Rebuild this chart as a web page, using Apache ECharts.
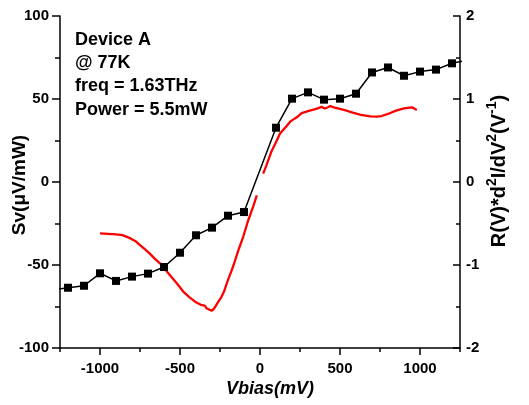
<!DOCTYPE html>
<html>
<head>
<meta charset="utf-8">
<script src="https://cdn.jsdelivr.net/npm/echarts@6/dist/echarts.min.js"></script>
<style>
  html, body { margin: 0; padding: 0; background: #fff; }
  #chart { width: 529px; height: 405px; }
</style>
</head>
<body>
<div id="chart"></div>
<script>
// Photoresponse Sv (left axis) measured every 100 mV of bias
const biasSteps = [-1300, -1200, -1100, -1000, -900, -800, -700, -600, -500, -400, -300, -200, -100,
                   100, 200, 300, 400, 500, 600, 700, 800, 900, 1000, 1100, 1200, 1300];
const svValues = [-65, -63.7, -62.5, -55, -59.6, -57, -55.2, -51.2, -42.6, -32.1, -27.5, -20.3, -18.1,
                  32.7, 50.2, 54, 49.6, 50.2, 53.2, 66, 69, 64, 66.5, 67.7, 71.5, 73.5];

// Normalised curvature R(V)*d2I/dV2 (right axis); '-' leaves the break around zero bias
const curveBias = [-1000, -950, -900, -860, -820, -780, -750, -720, -690, -660, -625, -590, -560, -520,
                   -480, -440, -400, -370, -345, -335, -325, -315, -300, -285, -260, -240, -225, -200,
                   -180, -165, -135, -105, -75, -45, -20, 0, 20, 40, 70, 100, 125, 160, 190, 230, 260,
                   300, 340, 365, 385, 405, 425, 440, 460, 480, 530, 580, 630, 690, 730, 760, 800, 850,
                   900, 950, 980];
const curveValues = [-0.62, -0.625, -0.63, -0.64, -0.67, -0.71, -0.76, -0.81, -0.86, -0.92, -0.98, -1.06,
                     -1.13, -1.22, -1.32, -1.39, -1.45, -1.48, -1.49, -1.52, -1.50, -1.54, -1.55, -1.52,
                     -1.44, -1.38, -1.32, -1.18, -1.08, -1.0, -0.82, -0.66, -0.47, -0.31, -0.16, '-',
                     0.10, 0.20, 0.36, 0.48, 0.585, 0.66, 0.73, 0.78, 0.83, 0.855, 0.875, 0.89, 0.905,
                     0.885, 0.90, 0.915, 0.9, 0.89, 0.867, 0.835, 0.81, 0.79, 0.787, 0.795, 0.82, 0.86,
                     0.888, 0.9, 0.867];

const xMajorTicks = [-1000, -500, 0, 500, 1000];
const xMinorTicks = [-1250, -750, -250, 250, 750, 1250];
const infoLines = ['Device A', '@ 77K', 'freq = 1.63THz', 'Power = 5.5mW'];

const FONT = 'Arial, "Liberation Sans", sans-serif';
const chart = echarts.init(document.getElementById('chart'), null, { renderer: 'canvas' });

const axisLine = { show: true, onZero: false, lineStyle: { color: '#000', width: 1.5 } };
const tickLabel = {
  color: '#000', fontFamily: FONT, fontWeight: 'bold', fontSize: 15,
  formatter: v => String(v)
};

chart.setOption({
  animation: false,
  backgroundColor: '#fff',
  grid: { left: 60, right: 69, top: 16, bottom: 57, containLabel: false },
  xAxis: [
    {
      type: 'value', min: -1250, max: 1250, position: 'bottom',
      axisLine: axisLine,
      axisTick: { show: true, customValues: xMajorTicks, length: 7, lineStyle: { color: '#000', width: 1.5 } },
      axisLabel: Object.assign({ customValues: xMajorTicks, margin: 13 }, tickLabel),
      splitLine: { show: false }
    },
    {
      type: 'value', min: -1250, max: 1250, position: 'bottom',
      axisLine: { show: false, onZero: false },
      axisTick: { show: true, customValues: xMinorTicks, length: 4, lineStyle: { color: '#000', width: 1.5 } },
      axisLabel: { show: false },
      splitLine: { show: false }
    }
  ],
  yAxis: [
    {
      type: 'value', min: -100, max: 100, interval: 50, position: 'left',
      axisLine: axisLine,
      axisTick: { show: true, length: 8, lineStyle: { color: '#000', width: 1.5 } },
      minorTick: { show: true, splitNumber: 2, length: 5, lineStyle: { color: '#000', width: 1.5 } },
      axisLabel: Object.assign({ margin: 11 }, tickLabel),
      splitLine: { show: false }
    },
    {
      type: 'value', min: -2, max: 2, interval: 1, position: 'right',
      axisLine: axisLine,
      axisTick: { show: true, inside: true, length: 7, lineStyle: { color: '#000', width: 1.5 } },
      minorTick: { show: true, splitNumber: 2, length: 4, lineStyle: { color: '#000', width: 1.5 } },
      axisLabel: Object.assign({ margin: 6 }, tickLabel),
      splitLine: { show: false }
    }
  ],
  series: [
    {
      name: 'Sv', type: 'line', xAxisIndex: 0, yAxisIndex: 0,
      data: biasSteps.map((v, i) => [v, svValues[i]]),
      symbol: 'rect', symbolSize: 8, showAllSymbol: true, clip: true,
      lineStyle: { color: '#000', width: 1.5 },
      itemStyle: { color: '#000' }
    },
    {
      name: 'R(V)*d2I/dV2', type: 'line', xAxisIndex: 0, yAxisIndex: 1,
      data: curveBias.map((v, i) => [v, curveValues[i]]),
      showSymbol: false, connectNulls: false,
      lineStyle: { color: '#ff0000', width: 2.3 }
    }
  ],
  graphic: [
    {
      type: 'text', left: 75, top: 28,
      style: {
        text: infoLines.join('\n'),
        font: 'bold 18px ' + FONT, lineHeight: 23.3, fill: '#000'
      }
    },
    {
      type: 'text', x: 20, y: 185, rotation: Math.PI / 2,
      style: {
        text: 'Sv(μV/mW)', font: 'bold 19px ' + FONT, fill: '#000',
        align: 'center', verticalAlign: 'middle'
      }
    },
    {
      type: 'text', x: 499, y: 171, rotation: Math.PI / 2,
      style: {
        text: '{b|R(V)*d}{s|2}{b|I/dV}{s|2}{b|(V}{s|-1}{b|)}',
        align: 'center', verticalAlign: 'middle', fill: '#000',
        rich: {
          b: { font: 'bold 20px ' + FONT, fill: '#000' },
          s: { font: 'bold 14px ' + FONT, fill: '#000', padding: [0, 0, 14, 0] }
        }
      }
    },
    {
      type: 'text', x: 270, y: 389,
      style: {
        text: 'Vbias(mV)', font: 'italic bold 18px ' + FONT, fill: '#000',
        align: 'center', verticalAlign: 'middle'
      }
    }
  ]
});
</script>
</body>
</html>
